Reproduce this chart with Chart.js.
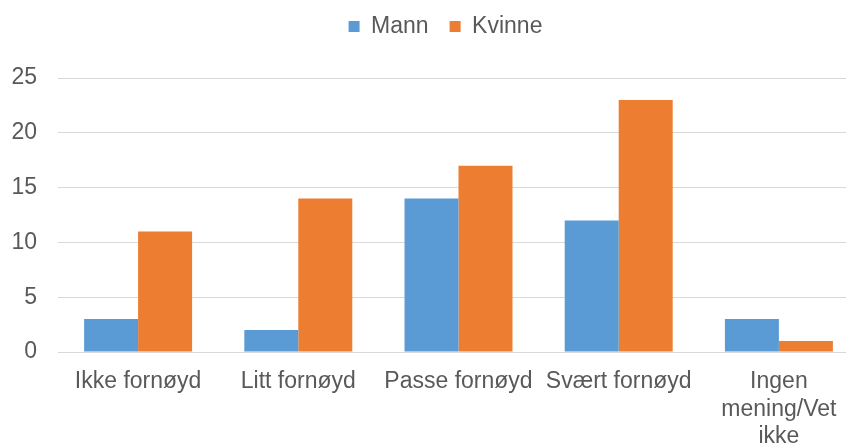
<!DOCTYPE html>
<html>
<head>
<meta charset="utf-8">
<script src="https://cdn.jsdelivr.net/npm/chart.js@4"></script>
<style>
  html, body { margin: 0; padding: 0; background: #fff; overflow: hidden; }
  #wrap { width: 846px; height: 446px; overflow: hidden; }
</style>
</head>
<body>
<div id="wrap"><canvas id="grafico" width="860" height="452"></canvas></div>
<script>
const kategorier = ['Ikke fornøyd', 'Litt fornøyd', 'Passe fornøyd', 'Svært fornøyd', ['Ingen', 'mening/Vet', 'ikke']];
const mann = [3, 2, 14, 12, 3];
const kvinne = [11, 14, 17, 23, 1];
const yTicks = [0, 5, 10, 15, 20, 25];

Chart.defaults.font.family = '"Liberation Sans", Arial, sans-serif';
Chart.defaults.font.size = 23;
Chart.defaults.color = '#595959';

// fast høyde på legenden så plottet starter riktig sted, og flytt den litt
const legendPlass = {
  id: 'legendPlass',
  beforeInit(chart) {
    const fit = chart.legend.fit;
    chart.legend.fit = function () {
      fit.call(this);
      this.height = 78;
    };
  },
  afterLayout(chart) {
    const lg = chart.legend;
    lg.left += 10; lg.right += 10;
    lg.top -= 6; lg.bottom -= 6;
  }
};

const ctx = document.getElementById('grafico').getContext('2d');
new Chart(ctx, {
  type: 'bar',
  data: {
    labels: kategorier,
    datasets: [
      { label: 'Mann', data: mann, backgroundColor: '#5B9BD5' },
      { label: 'Kvinne', data: kvinne, backgroundColor: '#ED7D31' }
    ]
  },
  options: {
    responsive: false,
    animation: false,
    layout: { padding: { left: 12, right: 1, top: 0, bottom: 0 } },
    datasets: { bar: { categoryPercentage: 0.674, barPercentage: 1 } },
    plugins: {
      legend: {
        position: 'top',
        labels: { font: { size: 23 }, boxWidth: 11, boxHeight: 11, padding: 21 }
      },
      tooltip: { enabled: false }
    },
    scales: {
      x: {
        grid: { display: false, drawTicks: false },
        border: { display: false },
        ticks: { font: { size: 23, lineHeight: 1.2 }, maxRotation: 0, autoSkip: false, padding: 16 },
        afterFit: s => { s.height = 100; s.paddingLeft = 0; s.paddingRight = 0; }
      },
      y: {
        min: 0, max: 25,
        afterBuildTicks: axis => { axis.ticks = yTicks.map(v => ({ value: v })); },
        grid: { color: '#d9d9d9', drawTicks: false },
        border: { display: false },
        ticks: { font: { size: 23 }, padding: 21 },
        afterFit: s => { s.width = 46; s.paddingTop = 0; s.paddingBottom = 0; }
      }
    }
  },
  plugins: [legendPlass]
});
</script>
</body>
</html>
